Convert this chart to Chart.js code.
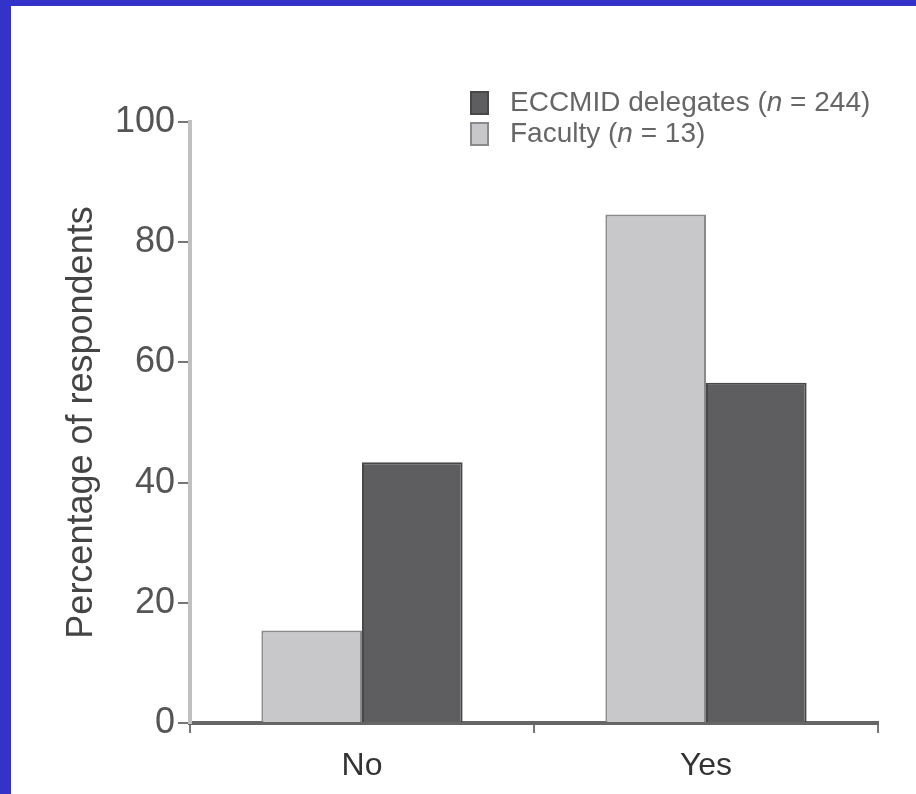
<!DOCTYPE html>
<html>
<head>
<meta charset="utf-8">
<script src="https://cdn.jsdelivr.net/npm/chart.js@4.4.0/dist/chart.umd.min.js"></script>
<style>
html, body { margin: 0; padding: 0; background: #3333cc; }
#wrap { position: absolute; left: 11px; top: 6px; width: 905px; height: 788px; background: #fff; }
</style>
</head>
<body>
<div id="wrap"><canvas id="myChart"></canvas></div>
<script>
// data
const categories = ['No', 'Yes'];
const seriesNames = ['Faculty', 'ECCMID delegates'];
const seriesN = [13, 244];
const facultyValues = [15.4, 84.6];
const delegateValues = [43.4, 56.6];
const yTicks = [0, 20, 40, 60, 80, 100];

const FONT = "'Liberation Sans', Arial, Helvetica, sans-serif";

// legend drawn by hand (top right, delegates first, italic n)
const cornerLegend = {
    id: 'cornerLegend',
    afterDraw(chart) {
        const ctx = chart.ctx;
        const order = [1, 0];
        ctx.save();
        order.forEach((di, row) => {
            const ds = chart.data.datasets[di];
            const y = 97 + row * 31;
            ctx.fillStyle = ds.backgroundColor;
            ctx.fillRect(460, y - 11, 17, 22);
            ctx.strokeStyle = ds.borderColor;
            ctx.lineWidth = 2;
            ctx.strokeRect(460, y - 11, 17, 22);

            ctx.fillStyle = '#666';
            ctx.textBaseline = 'middle';
            let x = 499;
            const parts = [
                [seriesNames[di] + ' (', 'normal'],
                ['n', 'italic'],
                [' = ' + seriesN[di] + ')', 'normal']
            ];
            parts.forEach(p => {
                ctx.font = p[1] + ' 28px ' + FONT;
                ctx.fillText(p[0], x, y);
                x += ctx.measureText(p[0]).width;
            });
        });
        ctx.restore();
    }
};

let ctx = document.getElementById('myChart').getContext('2d');
let chart = new Chart(ctx, {
    type: 'bar',
    data: {
        labels: categories,
        datasets: [{
            label: seriesNames[0],
            data: facultyValues,
            backgroundColor: '#c8c8ca',
            borderColor: '#8a8a8c',
            borderWidth: 2
        }, {
            label: seriesNames[1],
            data: delegateValues,
            backgroundColor: '#5e5e60',
            borderColor: '#48484a',
            borderWidth: 2
        }]
    },
    options: {
        responsive: true,
        maintainAspectRatio: false,
        animation: false,
        layout: { padding: { top: 116, right: 38, left: 0, bottom: 0 } },
        plugins: {
            legend: { display: false },
            tooltip: { enabled: false }
        },
        datasets: { bar: { barPercentage: 1, categoryPercentage: 0.585 } },
        scales: {
            x: {
                afterFit: s => { s.height = 71; },
                grid: {
                    offset: true,
                    drawOnChartArea: false,
                    drawTicks: true,
                    tickLength: 10,
                    tickColor: '#777',
                    lineWidth: 2
                },
                border: { display: true, color: '#666', width: 4 },
                ticks: {
                    color: '#333',
                    padding: 14,
                    font: { family: FONT, size: 32 }
                }
            },
            y: {
                min: 0,
                max: 100,
                afterFit: s => { s.width = 179; },
                afterBuildTicks: s => { s.ticks = yTicks.map(v => ({ value: v })); },
                grid: {
                    drawOnChartArea: false,
                    drawTicks: true,
                    tickLength: 12,
                    tickColor: '#777',
                    lineWidth: 2
                },
                border: { display: true, color: '#c0c0c0', width: 4 },
                ticks: {
                    color: '#555',
                    padding: 3,
                    font: { family: FONT, size: 36 }
                },
                title: {
                    display: true,
                    text: 'Percentage of respondents',
                    color: '#444',
                    padding: { top: 49, bottom: 0 },
                    font: { family: FONT, size: 36 }
                }
            }
        }
    },
    plugins: [cornerLegend]
});
</script>
</body>
</html>
